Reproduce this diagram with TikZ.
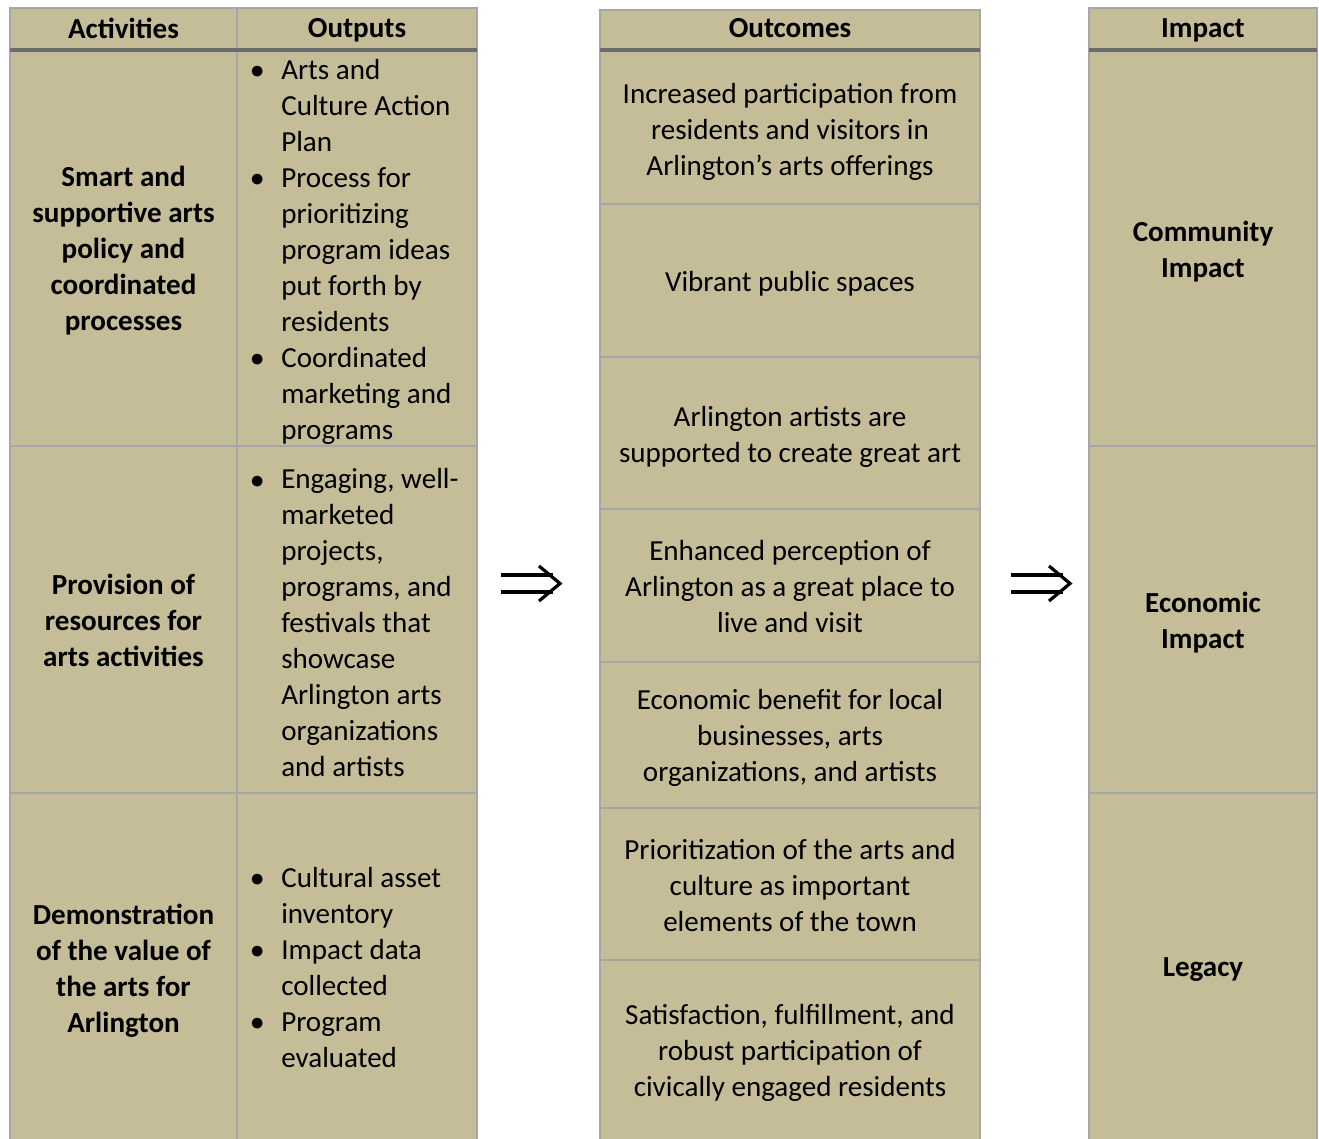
\documentclass[tikz,border=0pt]{standalone}
\usepackage{fontspec}
\setmainfont{Carlito}
\definecolor{tanfill}{HTML}{C4BD97}
\definecolor{gridgray}{HTML}{A6A6A6}
\definecolor{headgray}{HTML}{6B6B6B}
\newcommand{\bul}{\llap{\makebox[36pt][c]{\raisebox{0.5pt}{$\bullet$}}}}
\begin{document}
\begin{tikzpicture}[x=0.75pt,y=-0.75pt,
  txt/.style={font=\fontsize{21.8}{27}\selectfont, inner sep=0pt, align=center},
  btxt/.style={txt, font=\fontsize{21.8}{27}\selectfont\bfseries},
  ltxt/.style={txt, align=left, anchor=west},
  gridline/.style={draw=gridgray, line width=1.6pt},
  headline/.style={draw=headgray, line width=2.4pt},
  arrowline/.style={line width=2.4pt, line cap=butt}]
\useasboundingbox (0,0) rectangle (1319,1138);
\clip (0,0) rectangle (1319,1138);
% table fills
\fill[tanfill] (10,8) rectangle (477,1150);
\fill[tanfill] (600,10) rectangle (980,1150);
\fill[tanfill] (1089,8) rectangle (1317,1150);
% left table grid
\draw[gridline] (10,1150) -- (10,8) -- (477,8) -- (477,1150);
\draw[gridline] (237,8) -- (237,1150);
\draw[gridline] (10,446) -- (477,446);
\draw[gridline] (10,793) -- (477,793);
\draw[headline] (10,50) -- (477,50);
% outcomes grid
\draw[gridline] (600,1150) -- (600,10) -- (980,10) -- (980,1150);
\foreach \yy in {204,357,509,662,808,960} \draw[gridline] (600,\yy) -- (980,\yy);
\draw[headline] (600,50) -- (980,50);
% impact grid
\draw[gridline] (1089,1150) -- (1089,8) -- (1317,8) -- (1317,1150);
\draw[gridline] (1089,446) -- (1317,446);
\draw[gridline] (1089,793) -- (1317,793);
\draw[headline] (1089,50) -- (1317,50);
% headers
\node[btxt] (hAct) at (123.5,28) {Activities};
\node[btxt] (hOut) at (357,30) {Outputs};
\node[btxt] (hOc) at (790,28) {Outcomes};
\node[btxt] (hImp) at (1203,30) {Impact};
% activities
\node[btxt] (a1) at (123.5,251) {Smart and\\supportive arts\\policy and\\coordinated\\processes};
\node[btxt] (a2) at (123.5,620) {Provision of\\resources for\\arts activities};
\node[btxt] (a3) at (123.5,970.5) {Demonstration\\of the value of\\the arts for\\Arlington};
% outputs
\node[ltxt] (o1) at (281,252) {\bul Arts and\\Culture Action\\Plan\\\bul Process for\\prioritizing\\program ideas\\put forth by\\residents\\\bul Coordinated\\marketing and\\programs};
\node[ltxt] (o2) at (281,623) {\bul Engaging, well-\\marketed\\projects,\\programs, and\\festivals that\\showcase\\Arlington arts\\organizations\\and artists};
\node[ltxt] (o3) at (281,967) {\bul Cultural asset\\inventory\\\bul Impact data\\collected\\\bul Program\\evaluated};
% outcomes
\node[txt] (c1) at (790,132) {Increased participation from\\residents and visitors in\\Arlington’s arts offerings};
\node[txt] (c2) at (790,284) {Vibrant public spaces};
\node[txt] (c3) at (790,437) {Arlington artists are\\supported to create great art};
\node[txt] (c4) at (790,587) {Enhanced perception of\\Arlington as a great place to\\live and visit};
\node[txt] (c5) at (790,738) {Economic benefit for local\\businesses, arts\\organizations, and artists};
\node[txt] (c6) at (790,886) {Prioritization of the arts and\\culture as important\\elements of the town};
\node[txt] (c7) at (790,1053) {Satisfaction, fulfillment, and\\robust participation of\\civically engaged residents};
% impact
\node[btxt] (i1) at (1203,252) {Community\\Impact};
\node[btxt] (i2) at (1203,623) {Economic\\Impact};
\node[btxt] (i3) at (1203,970) {Legacy};
% arrows (double arrow glyphs)
\foreach \dx/\nm in {0/A,510/B} {
  \begin{scope}[xshift=\dx*0.75pt]
    \coordinate (\nm s1) at (501,575);
    \coordinate (\nm e1) at (553,575);
    \coordinate (\nm s2) at (501,592);
    \coordinate (\nm e2) at (553,592);
    \coordinate (\nm t) at (560,583.5);
    \draw[arrowline] (\nm s1) -- (\nm e1);
    \draw[arrowline] (\nm s2) -- (\nm e2);
    \draw[arrowline, line join=miter] (539,566) -- (\nm t) -- (539,601);
  \end{scope}
}
\end{tikzpicture}
\end{document}
